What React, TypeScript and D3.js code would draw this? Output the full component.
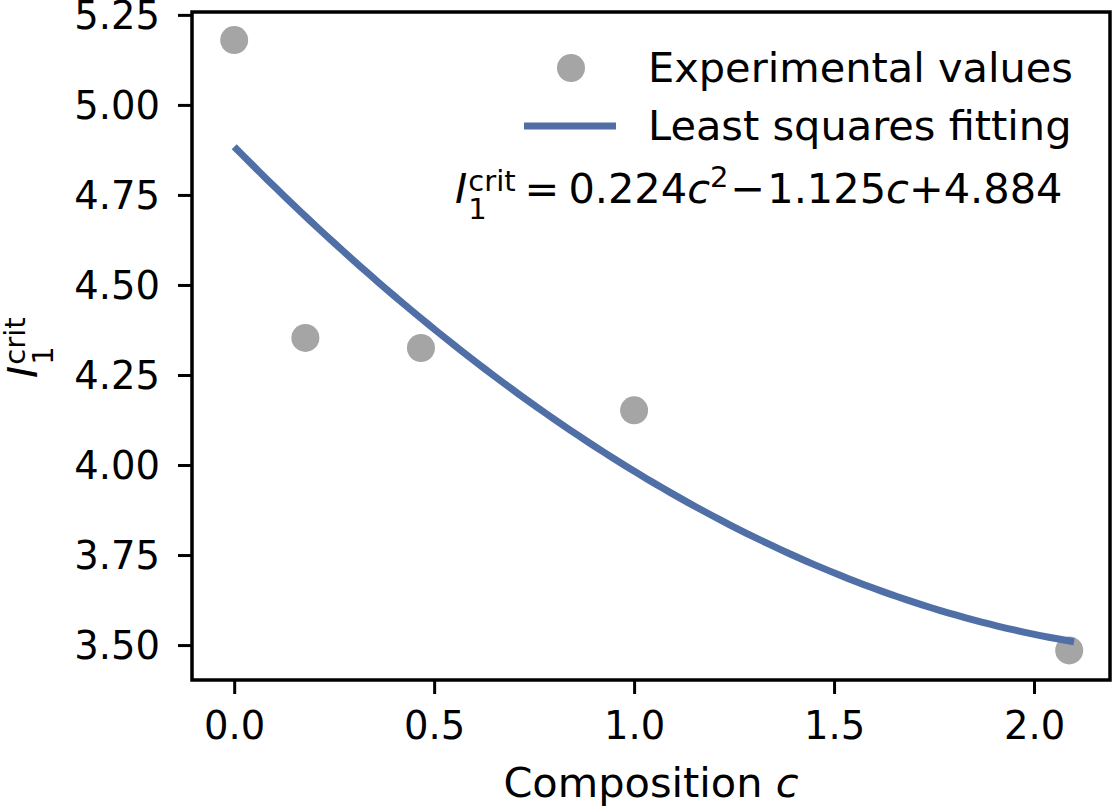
import React, { useEffect, useRef } from 'react';
import * as d3 from 'd3';

// measured critical invariant against composition
const composition = [0.0, 0.178, 0.467, 1.0, 2.088];
const criticalI1 = [5.18, 4.353, 4.325, 4.152, 3.485];

// quadratic least squares fit, highest power first
const fitCoefs = [0.224, -1.125, 4.884];
const fitRange = [0.0, 2.1];

const xTicks = [0.0, 0.5, 1.0, 1.5, 2.0];
const yTicks = [3.5, 3.75, 4.0, 4.25, 4.5, 4.75, 5.0, 5.25];

const W = 1113;
const H = 807;
const FONT = 'DejaVu Sans, sans-serif';
const FS = 41.5;
const TICK_FS = 38.5;
const SCRIPT_FS = 29;

// I_1^crit in mathtext style: italic I, stacked subscript and superscript
const addSymbol = (text) => {
  text.append('tspan').attr('font-style', 'italic').text('I');
  text.append('tspan').attr('font-size', SCRIPT_FS).attr('dx', 1).attr('dy', 16).text('1');
  text.append('tspan').attr('font-size', SCRIPT_FS).attr('dx', -18.4).attr('dy', -28).text('crit');
};

const App = () => {
  const svgRef = useRef(null);

  useEffect(() => {
    if (!svgRef.current) return;
    const svg = d3.select(svgRef.current);
    svg.selectAll('*').remove();

    const left = 192, right = 1110, top = 12, bottom = 680;

    const x = d3.scaleLinear().domain([-0.1055, 2.19]).range([left, right]);
    const y = d3.scaleLinear().domain([3.403, 5.258]).range([bottom, top]);

    // fitted curve
    const poly = c => fitCoefs.reduce((acc, k) => acc * c + k, 0);
    const curve = d3.range(0, 101).map(i => {
      const c = fitRange[0] + (fitRange[1] - fitRange[0]) * i / 100;
      return [c, poly(c)];
    });

    const line = d3.line()
      .x(d => x(d[0]))
      .y(d => y(d[1]));

    // scatter points
    svg.append('g')
      .selectAll('circle')
      .data(composition.map((c, i) => [c, criticalI1[i]]))
      .enter()
      .append('circle')
      .attr('cx', d => x(d[0]))
      .attr('cy', d => y(d[1]))
      .attr('r', 14)
      .attr('fill', '#a5a5a5');

    svg.append('path')
      .datum(curve)
      .attr('d', line)
      .attr('fill', 'none')
      .attr('stroke', '#4f6fa6')
      .attr('stroke-width', 7);

    // axes
    const xAxis = svg.append('g')
      .attr('transform', `translate(0,${bottom})`)
      .call(d3.axisBottom(x).tickValues(xTicks).tickFormat(d3.format('.1f')).tickSize(14).tickPadding(18));
    const yAxis = svg.append('g')
      .attr('transform', `translate(${left},0)`)
      .call(d3.axisLeft(y).tickValues(yTicks).tickFormat(d3.format('.2f')).tickSize(14).tickPadding(18));

    [xAxis, yAxis].forEach(a => {
      a.select('.domain').remove();
      a.selectAll('line').attr('stroke', '#000').attr('stroke-width', 3);
      a.selectAll('text').attr('font-family', FONT).attr('font-size', TICK_FS).attr('fill', '#000');
    });
    yAxis.selectAll('text').attr('dy', '0.36em');

    svg.append('rect')
      .attr('x', left)
      .attr('y', top)
      .attr('width', right - left)
      .attr('height', bottom - top)
      .attr('fill', 'none')
      .attr('stroke', '#000')
      .attr('stroke-width', 3.5);

    // axis labels
    const xl = svg.append('text')
      .attr('x', (left + right) / 2)
      .attr('y', 797)
      .attr('text-anchor', 'middle')
      .attr('font-family', FONT)
      .attr('font-size', FS);
    xl.append('tspan').text('Composition ');
    xl.append('tspan').attr('font-style', 'italic').text('c');

    const yl = svg.append('text')
      .attr('transform', 'translate(37,378) rotate(-90)')
      .attr('font-family', FONT)
      .attr('font-size', FS);
    addSymbol(yl);

    // legend
    const legend = svg.append('g').attr('font-family', FONT).attr('font-size', FS);
    legend.append('circle').attr('cx', 571).attr('cy', 68).attr('r', 14).attr('fill', '#a5a5a5');
    legend.append('text').attr('x', 648).attr('y', 82).text('Experimental values');
    legend.append('line')
      .attr('x1', 524).attr('x2', 616).attr('y1', 126).attr('y2', 126)
      .attr('stroke', '#4f6fa6').attr('stroke-width', 7);
    legend.append('text').attr('x', 648).attr('y', 140).text('Least squares fitting');

    // fit equation
    const eq = svg.append('text')
      .attr('x', 455)
      .attr('y', 203)
      .attr('font-family', FONT)
      .attr('font-size', FS);
    addSymbol(eq);
    eq.append('tspan').attr('dx', 9).attr('dy', 12).text('=');
    eq.append('tspan').attr('dx', 9).text('0.224');
    eq.append('tspan').attr('font-style', 'italic').text('c');
    eq.append('tspan').attr('font-size', SCRIPT_FS).attr('dy', -16).text('2');
    eq.append('tspan').attr('dx', 2).attr('dy', 16).text('\u2212');
    eq.append('tspan').attr('dx', 2).text('1.125');
    eq.append('tspan').attr('font-style', 'italic').text('c');
    eq.append('tspan').text('+4.884');
  }, []);

  return (
    <div style={{ position: 'absolute', left: 0, top: 0, background: '#fff' }}>
      <svg ref={svgRef} width={W} height={H} style={{ display: 'block' }} />
    </div>
  );
};

export default App;
